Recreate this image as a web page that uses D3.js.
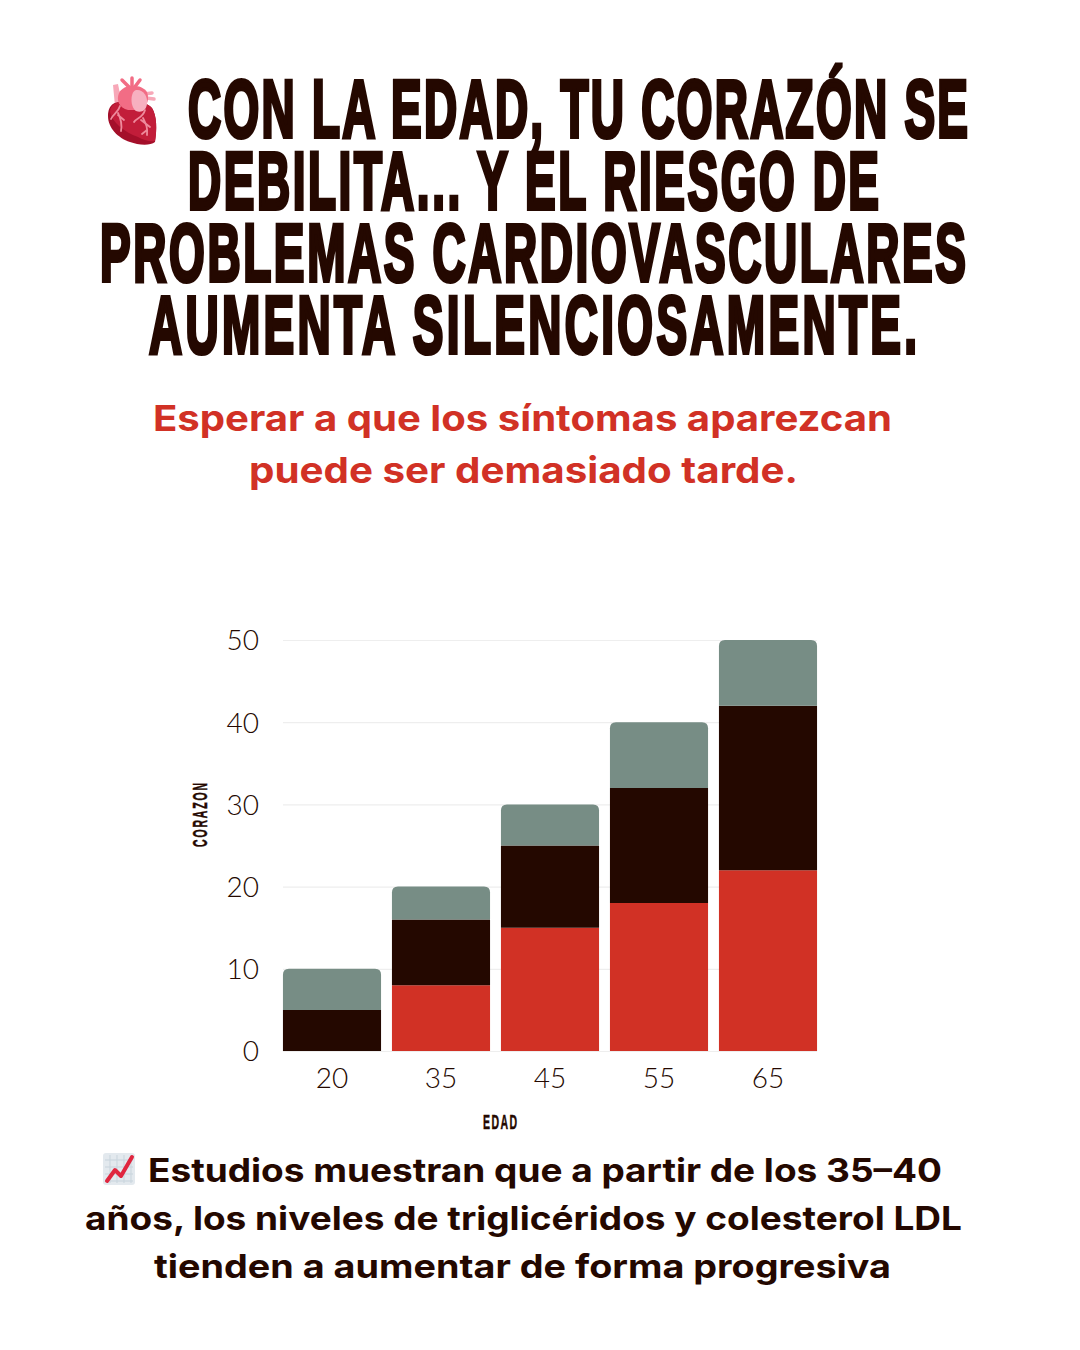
<!DOCTYPE html>
<html><head><meta charset="utf-8">
<style>html,body{margin:0;padding:0;background:#fff}svg{display:block}</style>
<script src="https://cdn.jsdelivr.net/npm/d3@7/dist/d3.min.js"></script>
</head><body><div id="c"></div>
<script>
const edades = ["20","35","45","55","65"];
const rojo = [0,8,15,18,22];
const oscuro = [5,8,10,14,20];
const gris = [5,4,5,8,8];
const yTicks = [0,10,20,30,40,50];
const tituloLineas = ["CON LA EDAD, TU CORAZÓN SE","DEBILITA... Y EL RIESGO DE","PROBLEMAS CARDIOVASCULARES","AUMENTA SILENCIOSAMENTE."];
const subtituloLineas = ["Esperar a que los síntomas aparezcan","puede ser demasiado tarde."];
const notaLineas = ["Estudios muestran que a partir de los 35–40","años, los niveles de triglicéridos y colesterol LDL","tienden a aumentar de forma progresiva"];

const INK="#240800", RED="#D13125", GREY="#778D85";
const svg=d3.select("#c").append("svg").attr("width",1080).attr("height",1350).style("background","#fff");

function fit(text,x0,x1,y,o){
  svg.append("text").attr("x",x0).attr("y",y).attr("textLength",x1-x0).attr("lengthAdjust","spacingAndGlyphs")
    .attr("font-family",o.font).attr("font-weight",o.weight).attr("font-size",o.size).attr("fill",o.fill).text(text);
}
// Condensed text: squeezed glyphs with spacing filled to the target width
function cond(text,x0,len,y,o){
  svg.append("text").attr("transform",`translate(${x0},${y}) rotate(${o.rot||0}) scale(${o.sx},1)`)
    .attr("textLength",len/o.sx).attr("lengthAdjust","spacing")
    .attr("font-family","'Liberation Sans'").attr("font-weight",700).attr("font-size",o.size).attr("fill",INK)
    .attr("stroke",o.sw?INK:"none").attr("stroke-width",o.sw||0).attr("stroke-linejoin","miter")
    .style("vector-effect","non-scaling-stroke").text(text);
}
const tPos=[[188,780,137],[188,691,209],[100,866,281],[149,768,353]];
tituloLineas.forEach((t,i)=>cond(t,tPos[i][0],tPos[i][1],tPos[i][2],{size:82,sx:0.56,sw:3.4}));
const sPos=[[153,892,431],[249,798,483]];
subtituloLineas.forEach((t,i)=>fit(t,sPos[i][0],sPos[i][1],sPos[i][2],{font:"Inter,'Noto Sans'",weight:700,size:36,fill:RED}));
const nPos=[[148,942,1182],[85,962,1230],[154,891,1278]];
notaLineas.forEach((t,i)=>fit(t,nPos[i][0],nPos[i][1],nPos[i][2],{font:"Inter,'Noto Sans'",weight:700,size:33,fill:INK}));

// Chart
const x=d3.scaleBand().domain(edades).range([277.5,822.5]).paddingInner(0.1).paddingOuter(0.05);
const y=d3.scaleLinear().domain([0,50]).range([1051,640]);
const filas=edades.map((e,i)=>({edad:e,rojo:rojo[i],oscuro:oscuro[i],gris:gris[i]}));
const stack=d3.stack().keys(["rojo","oscuro","gris"])(filas);
const colores={rojo:RED,oscuro:INK,gris:GREY};

const gy=svg.append("g").attr("transform","translate(283,0)")
  .call(d3.axisLeft(y).tickValues(yTicks).tickSize(-534).tickPadding(24).tickFormat(d3.format("d")));
gy.select(".domain").remove();
gy.selectAll(".tick line").attr("stroke","#EEEEEE").attr("stroke-width",1.2);
gy.selectAll(".tick text").attr("font-family","Lato").attr("font-weight",300).attr("font-size",28).attr("fill",INK).attr("dy","0.35em");

const gx=svg.append("g").attr("transform","translate(0,1051)")
  .call(d3.axisBottom(x).tickSize(0).tickPadding(17));
gx.select(".domain").remove();
gx.selectAll(".tick text").attr("font-family","Lato").attr("font-weight",300).attr("font-size",28).attr("fill",INK);

const r=6;
stack.forEach(s=>{
  svg.append("g").selectAll("path").data(s.filter(d=>d[1]>d[0])).join("path")
    .attr("fill",colores[s.key])
    .attr("d",d=>{
      const x0=x(d.data.edad),w=x.bandwidth(),t=y(d[1]),b=y(d[0]);
      if(s.key!=="gris") return `M${x0},${b}V${t}H${x0+w}V${b}Z`;
      return `M${x0},${b}V${t+r}Q${x0},${t} ${x0+r},${t}H${x0+w-r}Q${x0+w},${t} ${x0+w},${t+r}V${b}Z`;
    });
});

cond("CORAZON",207,64,847,{size:21,sx:0.5,rot:-90,sw:0.4});
cond("EDAD",483,34,1129,{size:21,sx:0.5,sw:0.4});

// Heart icon
const h=svg.append("g").attr("class","icono-corazon");
h.append("path").attr("fill","#F7A8B8").attr("d","M113,85 L118,84 L122,104 L115,106Z");
h.append("g").attr("stroke","#F26D85").attr("stroke-width",3.5).attr("stroke-linecap","round").selectAll("line")
  .data([[122,80,130,88],[132,78,132,87],[140,80,134,88]]).join("line")
  .attr("x1",d=>d[0]).attr("y1",d=>d[1]).attr("x2",d=>d[2]).attr("y2",d=>d[3]);
h.append("g").attr("stroke","#F7A8B8").attr("stroke-width",3.5).attr("stroke-linecap","round").selectAll("line")
  .data([[144,94,152,93],[146,98,154,99]]).join("line")
  .attr("x1",d=>d[0]).attr("y1",d=>d[1]).attr("x2",d=>d[2]).attr("y2",d=>d[3]);
h.append("path").attr("fill","#A40F2A").attr("d","M113,104 C120,100 145,100 152,108 C157,116 157,130 155,142 C150,146 138,145 130,142 C118,138 108,128 108,116 C108,110 110,106 113,104Z");
h.append("path").attr("fill","#C21D3A").attr("d","M114,104 C122,100 145,100 152,108 C157,116 157,130 155,141 C150,142 143,140 138,137 C124,132 112,122 110,112 C110,108 112,106 114,104Z");
h.append("path").attr("fill","#F26D85").attr("d","M119,93 C123,84 141,83 147,92 C150,100 146,108 141,110 L128,110 C119,108 116,100 119,93Z");
h.append("path").attr("fill","#F7B0C0").attr("d","M136,90 C143,89 148,96 147,104 C146,111 141,113 136,111 C130,107 130,92 136,90Z");
h.append("g").attr("fill","none").attr("stroke","#EE8A9C").attr("stroke-width",1.8).attr("stroke-linecap","round").selectAll("path")
  .data(["M120,106 C118,113 113,114 111,119 M118,113 C121,119 122,126 121,131 M118,115 L124,120","M145,110 C143,118 136,118 134,122 M143,118 C146,124 148,128 147,135 M141,120 L150,127 M147,130 L142,134"])
  .join("path").attr("d",d=>d);

// Chart emoji icon
const e=svg.append("g").attr("class","icono-grafico");
e.append("rect").attr("x",103).attr("y",1153).attr("width",32).attr("height",32).attr("rx",3).attr("fill","#E3E9EE");
const gr=e.append("g").attr("stroke","#CBD6DE").attr("stroke-width",1.1);
[110,117,124,131].forEach(v=>{
  gr.append("line").attr("x1",v).attr("x2",v).attr("y1",1155).attr("y2",1183);
  gr.append("line").attr("x1",105).attr("x2",133).attr("y1",v+1050).attr("y2",v+1050);
});
e.append("path").attr("fill","none").attr("stroke","#E0263F").attr("stroke-width",4).attr("stroke-linecap","round").attr("stroke-linejoin","round")
  .attr("d","M107,1181 L115,1170 L121,1176 L132,1157");
</script></body></html>
